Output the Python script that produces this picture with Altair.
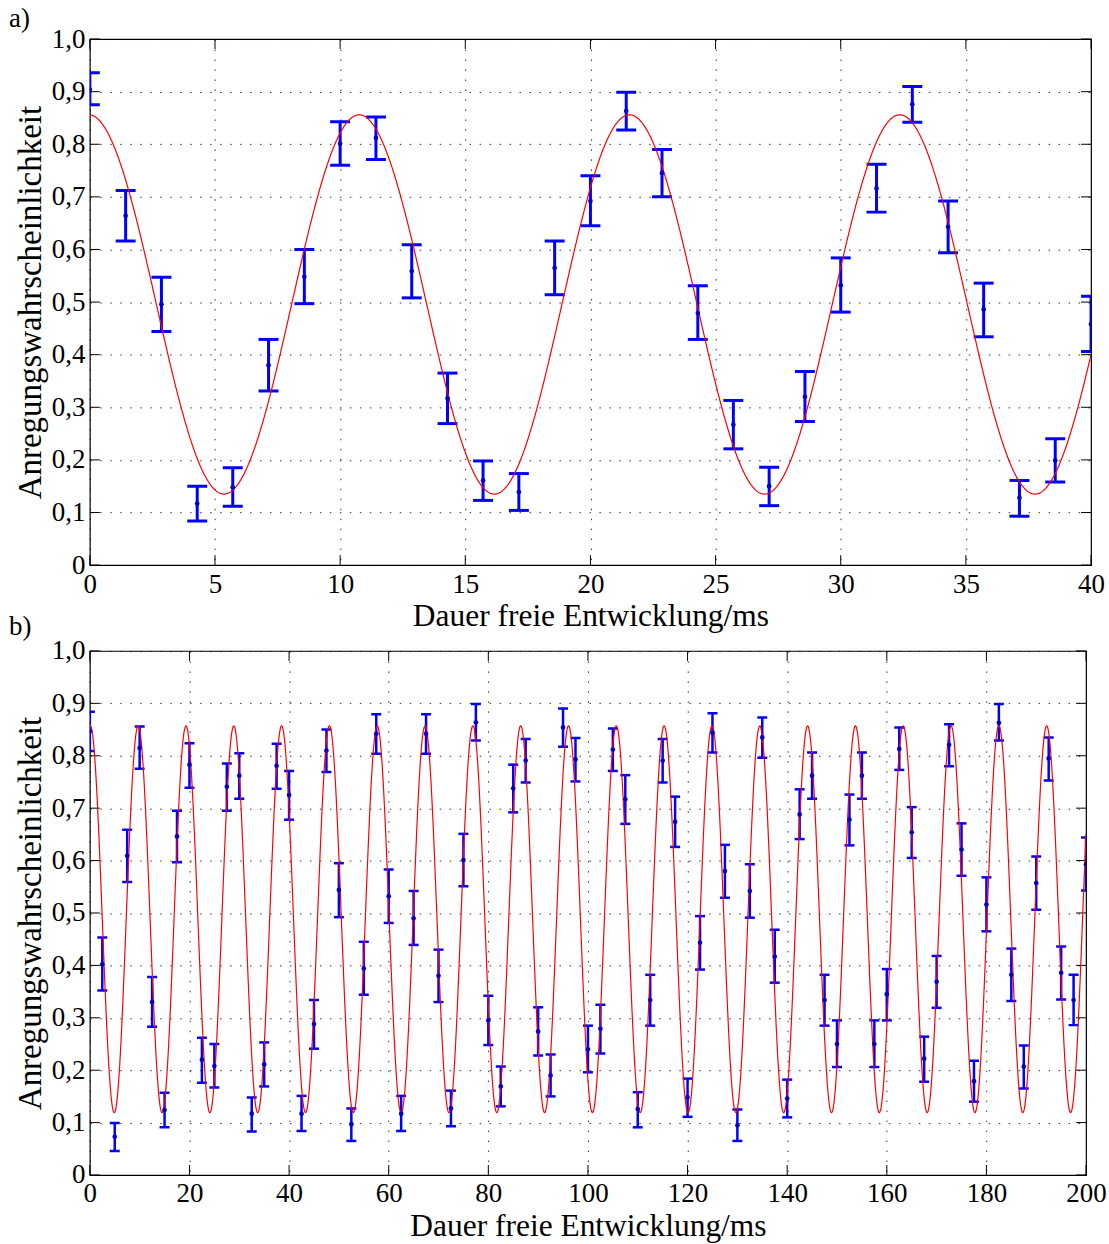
import altair as alt
import numpy as np
import pandas as pd

FONT = "Liberation Serif"
BLUE = "#0000ff"
RED = "#ff0000"

# ---------------- panel a) data ----------------
t_a = [0, 1.43, 2.86, 4.29, 5.71, 7.14, 8.57, 10, 11.43, 12.86, 14.29, 15.71, 17.14, 18.57,
       20, 21.43, 22.86, 24.29, 25.71, 27.14, 28.57, 30, 31.43, 32.86, 34.29, 35.71, 37.14,
       38.57, 40]
p_a = [0.904, 0.664, 0.496, 0.117, 0.148, 0.380, 0.548, 0.801, 0.812, 0.559, 0.317, 0.161,
       0.139, 0.565, 0.692, 0.863, 0.745, 0.479, 0.267, 0.150, 0.320, 0.532, 0.716, 0.876,
       0.643, 0.486, 0.128, 0.199, 0.458]
lo_a = [0.875, 0.616, 0.444, 0.084, 0.112, 0.331, 0.497, 0.760, 0.771, 0.508, 0.269, 0.123,
        0.104, 0.514, 0.645, 0.827, 0.700, 0.429, 0.221, 0.113, 0.273, 0.481, 0.671, 0.842,
        0.594, 0.434, 0.093, 0.158, 0.406]
hi_a = [0.936, 0.712, 0.547, 0.150, 0.185, 0.429, 0.600, 0.843, 0.852, 0.609, 0.365, 0.198,
        0.174, 0.616, 0.740, 0.899, 0.790, 0.531, 0.313, 0.186, 0.368, 0.584, 0.762, 0.910,
        0.692, 0.536, 0.161, 0.240, 0.511]
fit_a = {"offset": 0.4955, "amp": 0.3605, "period": 10.8, "t0": -0.04}
xticks_a = [0, 5, 10, 15, 20, 25, 30, 35, 40]

# ---------------- panel b) data ----------------
t_b = [0, 2.5, 5, 7.5, 10, 12.5, 15, 17.5, 20, 22.5, 25, 27.5, 30, 32.5, 35, 37.5, 40, 42.5,
       45, 47.5, 50, 52.5, 55, 57.5, 60, 62.5, 65, 67.5, 70, 72.5, 75, 77.5, 80, 82.5, 85,
       87.5, 90, 92.5, 95, 97.5, 100, 102.5, 105, 107.5, 110, 112.5, 115, 117.5, 120, 122.5,
       125, 127.5, 130, 132.5, 135, 137.5, 140, 142.5, 145, 147.5, 150, 152.5, 155, 157.5,
       160, 162.5, 165, 167.5, 170, 172.5, 175, 177.5, 180, 182.5, 185, 187.5, 190, 192.5,
       195, 197.5, 200]
p_b = [0.847, 0.402, 0.073, 0.609, 0.815, 0.330, 0.124, 0.646, 0.783, 0.220, 0.208, 0.741,
       0.762, 0.117, 0.211, 0.781, 0.725, 0.117, 0.288, 0.810, 0.544, 0.097, 0.394, 0.842,
       0.532, 0.117, 0.490, 0.842, 0.380, 0.127, 0.601, 0.864, 0.295, 0.169, 0.738, 0.791,
       0.274, 0.190, 0.854, 0.793, 0.240, 0.279, 0.812, 0.717, 0.126, 0.334, 0.791, 0.674,
       0.148, 0.443, 0.844, 0.580, 0.095, 0.542, 0.835, 0.417, 0.146, 0.688, 0.762, 0.334,
       0.250, 0.678, 0.762, 0.250, 0.345, 0.813, 0.654, 0.222, 0.369, 0.821, 0.621, 0.179,
       0.516, 0.863, 0.382, 0.207, 0.557, 0.795, 0.386, 0.334, 0.593]
lo_b = [0.809, 0.352, 0.046, 0.559, 0.775, 0.283, 0.091, 0.597, 0.739, 0.176, 0.167, 0.695,
        0.718, 0.083, 0.169, 0.737, 0.678, 0.084, 0.241, 0.769, 0.492, 0.065, 0.344, 0.804,
        0.481, 0.084, 0.439, 0.804, 0.330, 0.093, 0.551, 0.829, 0.248, 0.131, 0.692, 0.749,
        0.228, 0.150, 0.817, 0.751, 0.196, 0.232, 0.771, 0.670, 0.091, 0.285, 0.749, 0.626,
        0.111, 0.392, 0.806, 0.529, 0.065, 0.491, 0.796, 0.367, 0.110, 0.641, 0.718, 0.285,
        0.206, 0.629, 0.718, 0.206, 0.295, 0.773, 0.605, 0.178, 0.319, 0.780, 0.571, 0.140,
        0.465, 0.829, 0.332, 0.165, 0.506, 0.753, 0.335, 0.286, 0.543]
hi_b = [0.884, 0.453, 0.099, 0.659, 0.856, 0.378, 0.157, 0.695, 0.824, 0.262, 0.250, 0.785,
        0.805, 0.148, 0.253, 0.823, 0.771, 0.151, 0.334, 0.850, 0.595, 0.127, 0.445, 0.879,
        0.583, 0.151, 0.542, 0.879, 0.430, 0.161, 0.651, 0.899, 0.342, 0.207, 0.783, 0.832,
        0.320, 0.230, 0.890, 0.834, 0.285, 0.325, 0.852, 0.763, 0.158, 0.382, 0.832, 0.722,
        0.184, 0.494, 0.881, 0.630, 0.125, 0.593, 0.873, 0.468, 0.182, 0.736, 0.806, 0.382,
        0.295, 0.726, 0.806, 0.295, 0.393, 0.854, 0.702, 0.264, 0.418, 0.860, 0.671, 0.218,
        0.568, 0.899, 0.432, 0.247, 0.608, 0.835, 0.436, 0.382, 0.644]
fit_b = {"offset": 0.488, "amp": 0.369, "period": 9.6, "t0": 0.1}
xticks_b = [0, 20, 40, 60, 80, 100, 120, 140, 160, 180, 200]

yticks = [0.0, 0.1, 0.2, 0.3, 0.4, 0.5, 0.6, 0.7, 0.8, 0.9, 1.0]
x_title = "Dauer freie Entwicklung/ms"
y_title = "Anregungswahrscheinlichkeit"

Y_LABEL = "datum.value == 0 ? '0' : replace(format(datum.value, '.1f'), '.', ',')"


def panel(t, p, lo, hi, fit, xmax, xticks, W, H, cap, thick, texts):
    df = pd.DataFrame({"t": t, "p": p, "lo": lo, "hi": hi})
    tt = np.linspace(0, xmax, 2500)
    yy = fit["offset"] + fit["amp"] * np.cos(2 * np.pi * (tt - fit["t0"]) / fit["period"])
    curve = pd.DataFrame({"t": tt, "p": yy})

    xscale = alt.Scale(domain=[0, xmax], nice=False, zero=False)
    yscale = alt.Scale(domain=[0, 1], nice=False, zero=False)
    xaxis = alt.Axis(values=xticks, format="d", labelPadding=6, labelFlush=False,
                     title=x_title, titleY=52, titleBaseline="middle")
    yaxis = alt.Axis(values=yticks, labelExpr=Y_LABEL, labelPadding=5, labelFlush=False,
                     title=y_title, titleX=-59, titleY=H / 2, titleAngle=270,
                     titleBaseline="middle", titleAlign="center", titleFontSize=33)

    base = alt.Chart(df)
    bars = base.mark_rule(color=BLUE, strokeWidth=thick, clip=True).encode(
        x=alt.X("t:Q", scale=xscale, axis=xaxis),
        y=alt.Y("lo:Q", scale=yscale, axis=yaxis),
        y2="hi:Q",
    )
    cap_lo = base.mark_tick(color=BLUE, thickness=thick, size=cap, orient="horizontal",
                            clip=True, opacity=1).encode(x="t:Q", y="lo:Q")
    cap_hi = base.mark_tick(color=BLUE, thickness=thick, size=cap, orient="horizontal",
                            clip=True, opacity=1).encode(x="t:Q", y="hi:Q")
    dots = base.mark_circle(color="#0000cc", size=22, opacity=1, clip=True).encode(
        x="t:Q", y="p:Q")
    line = alt.Chart(curve).mark_line(color=RED, strokeWidth=1.2, clip=True).encode(
        x="t:Q", y="p:Q")

    xt = pd.DataFrame({"t": xticks})
    yt = pd.DataFrame({"p": yticks})
    tick_b = alt.Chart(xt).mark_rule(color="black", strokeWidth=1).encode(
        x="t:Q", y=alt.value(H), y2=alt.value(H - 10))
    tick_t = alt.Chart(xt).mark_rule(color="black", strokeWidth=1).encode(
        x="t:Q", y=alt.value(0), y2=alt.value(10))
    tick_l = alt.Chart(yt).mark_rule(color="black", strokeWidth=1).encode(
        y="p:Q", x=alt.value(0), x2=alt.value(10))
    tick_r = alt.Chart(yt).mark_rule(color="black", strokeWidth=1).encode(
        y="p:Q", x=alt.value(W), x2=alt.value(W - 10))

    layers = [bars, tick_b, tick_t, tick_l, tick_r, cap_lo, cap_hi, line, dots]
    for label, ty in texts:
        layers.append(
            alt.Chart(pd.DataFrame({"s": [label]})).mark_text(
                align="left", baseline="middle", fontSize=27, font=FONT, color="black"
            ).encode(x=alt.value(-81), y=alt.value(ty), text="s:N")
        )
    return alt.layer(*layers).properties(width=W, height=H)


Wa, Ha = 1003, 527
Wb, Hb = 998, 525
pa = panel(t_a, p_a, lo_a, hi_a, fit_a, 40, xticks_a, Wa, Ha, 20, 3,
           [("a)", -20), ("b)", 589)])
pb = panel(t_b, p_b, lo_b, hi_b, fit_b, 200, xticks_b, Wb, Hb, 10, 2.5, [])

chart = alt.vconcat(pa, pb, spacing=-5).properties(
    padding={"left": 8, "top": 3, "right": 2, "bottom": 0}
).configure_axis(
    labelFont=FONT, titleFont=FONT, labelFontSize=27, titleFontSize=31.5,
    titleFontWeight="normal", labelColor="black", titleColor="black",
    grid=True, gridColor="black", gridDash=[1.5, 8.5], gridOpacity=0.8, gridWidth=1,
    ticks=False, domain=False,
).configure_view(stroke="black", strokeWidth=1.2)

chart.save("out.html", embed_options={"renderer": "svg", "actions": False})
